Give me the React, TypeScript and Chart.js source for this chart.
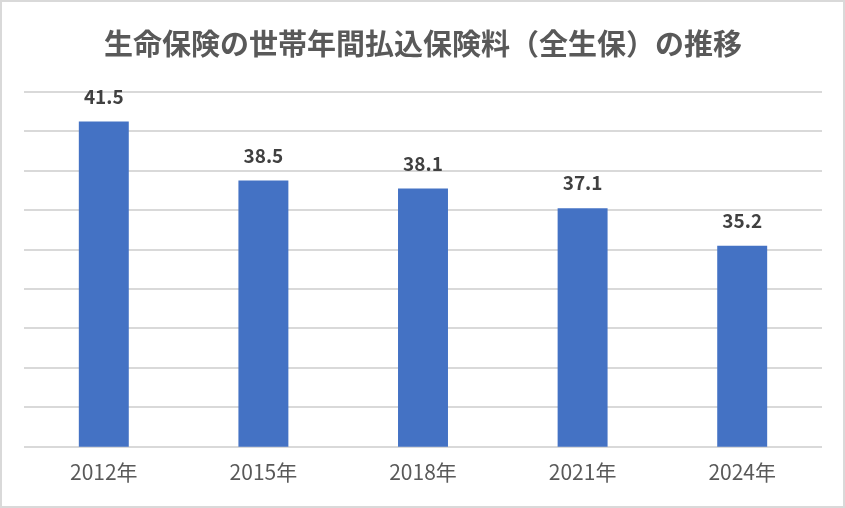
import React, { useEffect, useRef } from 'react';
import { Chart, registerables, Plugin } from 'chart.js';

Chart.register(...registerables);

const chartTitle = '生命保険の世帯年間払込保険料（全生保）の推移';
const years = ['2012年', '2015年', '2018年', '2021年', '2024年'];
const premiums = [41.5, 38.5, 38.1, 37.1, 35.2];

const FONT = '"Noto Sans CJK JP", "Noto Sans", sans-serif';

// draws the value above each bar
const valueLabels: Plugin<'bar'> = {
  id: 'valueLabels',
  afterDatasetsDraw(chart) {
    const ctx = chart.ctx;
    const meta = chart.getDatasetMeta(0);
    ctx.save();
    ctx.font = `bold 19px ${FONT}`;
    ctx.fillStyle = '#404040';
    ctx.textAlign = 'center';
    ctx.textBaseline = 'middle';
    meta.data.forEach((bar, i) => {
      ctx.fillText(premiums[i].toFixed(1), bar.x, bar.y - 25);
    });
    ctx.restore();
  },
};

const App: React.FC = () => {
  const canvasRef = useRef<HTMLCanvasElement>(null);
  const chartRef = useRef<Chart | null>(null);

  useEffect(() => {
    document.body.style.margin = '0';
    if (!canvasRef.current) return;
    if (chartRef.current) chartRef.current.destroy();

    chartRef.current = new Chart(canvasRef.current, {
      type: 'bar',
      data: {
        labels: years,
        datasets: [
          {
            data: premiums,
            backgroundColor: '#4472C4',
            barPercentage: 0.313,
            categoryPercentage: 1,
          },
        ],
      },
      options: {
        animation: false,
        responsive: true,
        maintainAspectRatio: false,
        layout: { padding: { left: 22, right: 21, top: 0, bottom: 16 } },
        plugins: {
          legend: { display: false },
          tooltip: { enabled: false },
          title: {
            display: true,
            text: chartTitle,
            color: '#595959',
            font: { family: FONT, size: 29, weight: 'bold' },
            padding: { top: 25, bottom: 30 },
          },
        },
        scales: {
          x: {
            grid: { display: false },
            border: { display: false },
            ticks: {
              color: '#595959',
              font: { family: FONT, size: 21, lineHeight: 1.58 },
              padding: 1,
            },
          },
          y: {
            min: 25,
            max: 43,
            ticks: { display: false, stepSize: 2 },
            grid: { color: '#d9d9d9', lineWidth: 2, drawTicks: false },
            border: { display: false },
          },
        },
      },
      plugins: [valueLabels],
    });

    return () => {
      if (chartRef.current) {
        chartRef.current.destroy();
        chartRef.current = null;
      }
    };
  }, []);

  return (
    <div
      style={{
        width: 845,
        height: 508,
        boxSizing: 'border-box',
        border: '2px solid #d9d9d9',
        background: '#fff',
        position: 'relative',
      }}
    >
      <canvas ref={canvasRef}></canvas>
    </div>
  );
};

export default App;
